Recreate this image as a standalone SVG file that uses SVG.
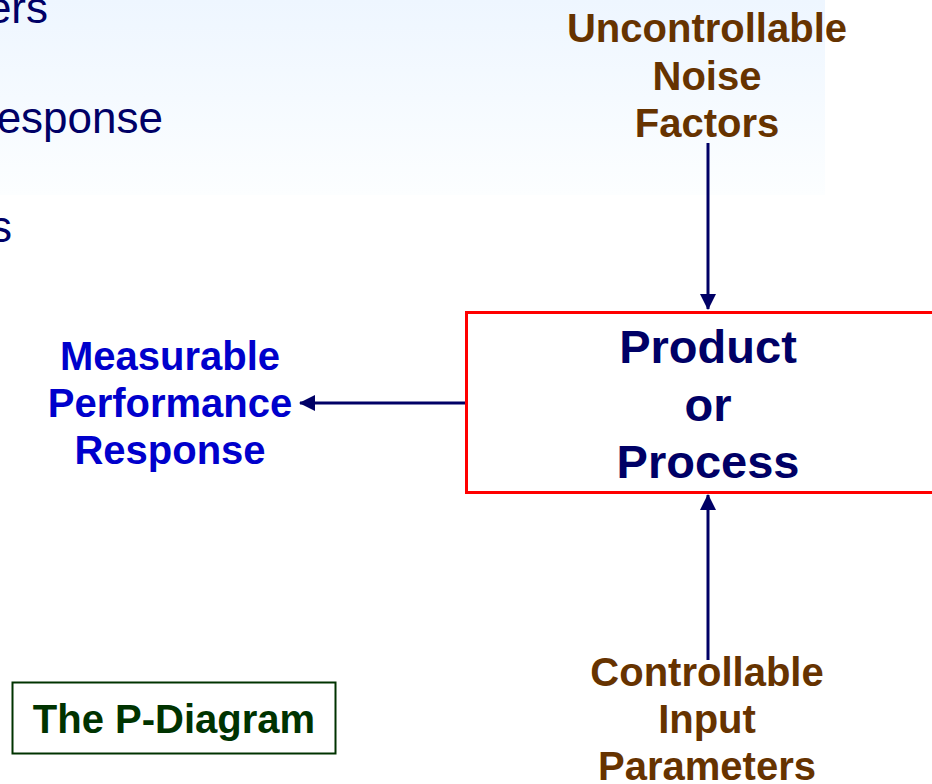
<svg xmlns="http://www.w3.org/2000/svg" width="932" height="784" viewBox="0 0 932 784">
  <defs>
    <linearGradient id="bgFade" x1="0" y1="0" x2="0" y2="1">
      <stop offset="0" stop-color="#eef6ff"/>
      <stop offset="1" stop-color="#fcfeff"/>
    </linearGradient>
    <marker id="head" viewBox="0 0 16 16" refX="15" refY="8" markerWidth="16" markerHeight="16" markerUnits="userSpaceOnUse" orient="auto">
      <path d="M0,0 L16,8 L0,16 Z" fill="#000066"/>
    </marker>
    <style>
      .body { font-family: "Liberation Sans", Arial, sans-serif; font-size: 44px; fill: #000066; }
      .lbl { font-family: "Liberation Sans", Arial, sans-serif; font-weight: bold; font-size: 40px; text-anchor: middle; }
      .brown { fill: #663300; }
      .blue { fill: #0000cc; }
      .core { font-family: "Liberation Sans", Arial, sans-serif; font-weight: bold; font-size: 47px; fill: #000066; text-anchor: middle; }
      .conn { stroke: #000066; stroke-width: 3; fill: none; marker-end: url(#head); }
    </style>
  </defs>

  <!-- page background with light blue band at the top -->
  <rect width="932" height="784" fill="#ffffff"/>
  <rect x="0" y="0" width="825" height="195" fill="url(#bgFade)"/>

  <!-- fragments of the bullet text to the left -->
  <g id="bullets">
    <text class="body" x="48" y="23" text-anchor="end">ers</text>
    <text class="body" x="163" y="133" text-anchor="end">esponse</text>
    <text class="body" x="12" y="242" text-anchor="end">s</text>
  </g>

  <g id="noise">
    <text class="lbl brown" x="707" y="42">Uncontrollable</text>
    <text class="lbl brown" x="707" y="90">Noise</text>
    <text class="lbl brown" x="707" y="137">Factors</text>
  </g>

  <g id="response">
    <text class="lbl blue" x="170" y="370">Measurable</text>
    <text class="lbl blue" x="170" y="417">Performance</text>
    <text class="lbl blue" x="170" y="464">Response</text>
  </g>

  <g id="system">
    <rect x="466.5" y="312.5" width="480" height="180" fill="#ffffff" stroke="#ff0000" stroke-width="3"/>
    <text class="core" x="708" y="363">Product</text>
    <text class="core" x="708" y="421">or</text>
    <text class="core" x="708" y="478">Process</text>
  </g>

  <g id="inputs">
    <text class="lbl brown" x="707" y="686">Controllable</text>
    <text class="lbl brown" x="707" y="733">Input</text>
    <text class="lbl brown" x="707" y="780">Parameters</text>
  </g>

  <g id="caption">
    <rect x="12.5" y="682.5" width="323" height="71" fill="#ffffff" stroke="#003300" stroke-width="2"/>
    <text x="174" y="733" font-family="Liberation Sans, Arial, sans-serif" font-weight="bold" font-size="40" fill="#003300" text-anchor="middle">The P-Diagram</text>
  </g>

  <g id="connectors">
    <line class="conn" x1="708" y1="143" x2="708" y2="309"/>
    <line class="conn" x1="708" y1="660" x2="708" y2="495"/>
    <line class="conn" x1="465" y1="403" x2="300" y2="403"/>
  </g>
</svg>
